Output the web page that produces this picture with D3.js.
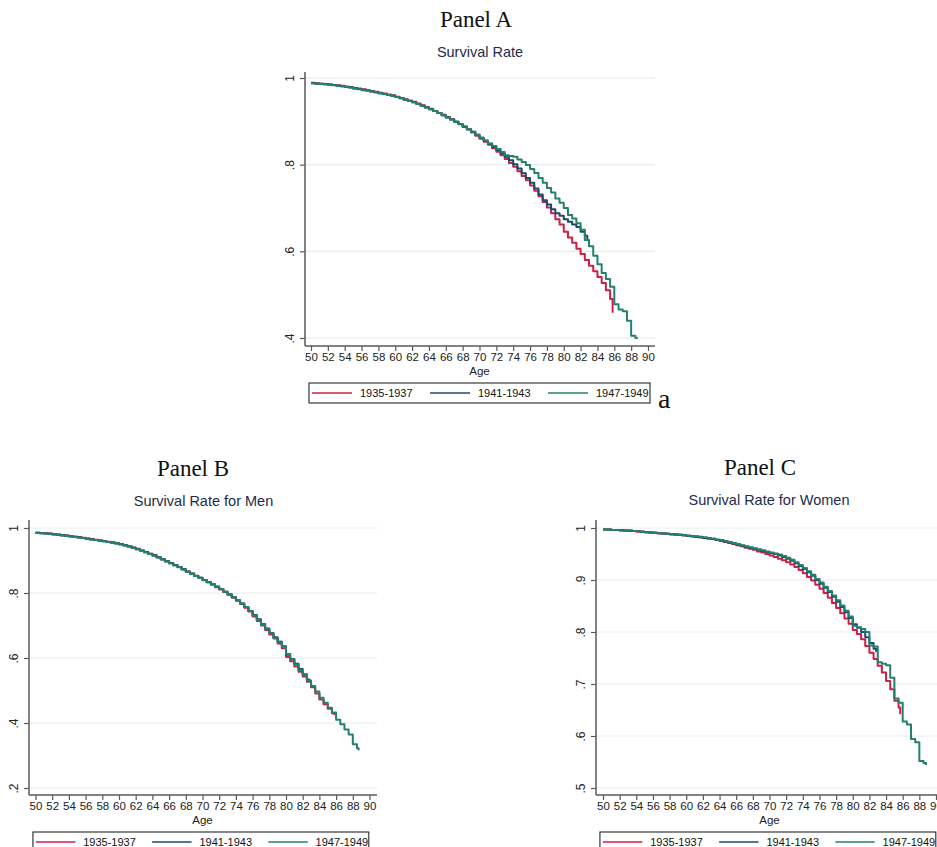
<!DOCTYPE html>
<html>
<head>
<meta charset="utf-8">
<script src="https://cdn.jsdelivr.net/npm/d3@7"></script>
<style>
  body { margin: 0; background: #fff; }
  svg { display: block; }
</style>
</head>
<body>
<svg id="chart" width="937" height="847"></svg>
<script>
// ---- data ---------------------------------------------------------------
const cohorts = ["1935-1937", "1941-1943", "1947-1949"];
const ageTicks = [50, 52, 54, 56, 58, 60, 62, 64, 66, 68, 70, 72, 74, 76, 78, 80, 82, 84, 86, 88, 90];
const yTicksA = [0.4, 0.6, 0.8, 1];
const yTicksB = [0.2, 0.4, 0.6, 0.8, 1];
const yTicksC = [0.5, 0.6, 0.7, 0.8, 0.9, 1];

// Kaplan-Meier survival read every half year of age, starting at 50
const ageStart = 50, ageStep = 0.5;

// Panel A: all respondents
const survA1935 = [
  .989,.988,.987,.986,.985,.984,.983,.982,.980,.979,.977,.975,.974,.972,.970,.968,.966,.964,.962,.960,
  .957,.954,.951,.948,.945,.941,.937,.933,.929,.924,.919,.915,.910,.905,.899,.893,.887,.881,.874,.867,
  .860,.853,.846,.838,.830,.822,.813,.804,.795,.785,.774,.764,.752,.740,.727,.714,.701,.688,.674,.662,
  .645,.632,.620,.606,.594,.580,.567,.554,.541,.527,.510,.490];
const survA1941 = [
  .988,.987,.987,.986,.985,.984,.982,.981,.980,.978,.976,.975,.973,.971,.969,.967,.965,.963,.961,.959,
  .956,.953,.950,.947,.944,.940,.936,.932,.928,.924,.919,.914,.909,.904,.899,.894,.888,.882,.876,.869,
  .862,.855,.848,.841,.834,.826,.818,.810,.801,.791,.780,.769,.758,.745,.731,.718,.708,.697,.688,.682,
  .674,.668,.662,.656,.645,.636];
const survA1947 = [
  .988,.987,.986,.985,.984,.983,.982,.981,.979,.978,.976,.974,.972,.971,.969,.967,.965,.963,.961,.959,
  .956,.953,.950,.947,.944,.940,.936,.932,.928,.924,.919,.914,.909,.904,.899,.894,.888,.882,.876,.869,
  .862,.856,.849,.843,.836,.829,.822,.820,.818,.812,.806,.799,.790,.781,.769,.758,.746,.736,.722,.712,
  .700,.684,.676,.665,.650,.626,.612,.590,.570,.550,.536,.518,.478,.466,.462,.440,.405,.400];
const lastA = [[85.8, .458], [82.8, .628], [88.7, .398]];

// Panel B: men
const survB1935 = [
  .986,.985,.984,.983,.981,.980,.978,.977,.975,.973,.972,.970,.968,.966,.964,.962,.960,.958,.956,.953,
  .951,.947,.944,.940,.936,.931,.926,.921,.916,.910,.904,.898,.892,.886,.880,.873,.866,.859,.852,.847,
  .840,.833,.826,.818,.811,.803,.795,.786,.776,.766,.755,.743,.728,.714,.700,.686,.672,.660,.645,.630,
  .603,.590,.574,.558,.543,.527,.510,.491,.472,.458,.444,.430];
const survB1941 = [
  .985,.984,.983,.982,.981,.979,.978,.976,.975,.973,.971,.969,.967,.965,.963,.961,.959,.957,.955,.953,
  .950,.947,.943,.939,.935,.931,.926,.921,.916,.910,.904,.898,.892,.886,.880,.873,.866,.860,.853,.847,
  .840,.834,.827,.820,.812,.804,.796,.787,.778,.768,.757,.745,.732,.719,.705,.691,.677,.664,.650,.636,
  .610,.597,.582,.566,.550,.534];
const survB1947 = [
  .985,.984,.983,.982,.980,.979,.977,.976,.974,.972,.971,.969,.967,.965,.963,.961,.959,.957,.955,.952,
  .949,.946,.943,.939,.935,.930,.925,.920,.915,.909,.903,.897,.891,.885,.879,.872,.865,.859,.852,.846,
  .839,.833,.826,.819,.812,.804,.796,.787,.778,.768,.757,.745,.731,.718,.704,.690,.676,.662,.650,.636,
  .612,.596,.580,.563,.548,.531,.514,.497,.478,.462,.447,.432,.410,.396,.380,.365,.335,.322];
const lastB = [[85.8, .425], [82.8, .528], [88.7, .316]];

// Panel C: women
const survC1935 = [
  .997,.997,.996,.996,.995,.995,.994,.994,.993,.993,.992,.991,.991,.990,.989,.989,.988,.987,.987,.986,
  .985,.984,.983,.982,.981,.980,.979,.977,.975,.973,.971,.969,.967,.965,.962,.960,.958,.955,.953,.950,
  .947,.944,.941,.938,.934,.930,.925,.919,.913,.906,.899,.891,.883,.875,.866,.856,.846,.836,.826,.816,
  .804,.796,.786,.773,.760,.748,.735,.722,.706,.690,.668,.655];
const survC1941 = [
  .997,.997,.996,.996,.996,.995,.995,.994,.994,.993,.992,.992,.991,.990,.990,.989,.988,.988,.987,.986,
  .985,.984,.983,.982,.981,.980,.979,.977,.976,.974,.972,.970,.968,.966,.964,.962,.960,.958,.956,.954,
  .952,.950,.947,.944,.941,.937,.932,.927,.921,.915,.908,.900,.893,.885,.877,.868,.858,.848,.838,.827,
  .815,.808,.800,.790,.779,.768];
const survC1947 = [
  .997,.997,.996,.996,.995,.995,.995,.994,.994,.993,.992,.992,.991,.990,.990,.989,.988,.987,.987,.986,
  .985,.984,.984,.983,.982,.981,.980,.978,.977,.975,.973,.971,.969,.967,.965,.963,.961,.959,.957,.955,
  .953,.951,.949,.946,.943,.939,.934,.929,.923,.917,.910,.902,.895,.887,.879,.870,.861,.851,.841,.830,
  .812,.809,.806,.800,.774,.772,.742,.739,.736,.712,.672,.664,.628,.622,.594,.588,.552,.548];
const lastC = [[85.7, .642], [82.8, .762], [88.8, .544]];

// ---- styling ------------------------------------------------------------
const colors = ["#cf1f45", "#1b4b6b", "#23806f"];
const gridColor = "#e3ecee";
const axisColor = "#5a5a5a";
const titleColor = "#1e2c4b";
const sans = "'Liberation Sans', Arial, Helvetica, sans-serif";
const serif = "'Liberation Serif', 'Times New Roman', serif";

const panels = [
  { series: [survA1935, survA1941, survA1947], last: lastA, yTicks: yTicksA, yMin: 0.4,
    x0: 305, x50: 311, x90: 648, xEnd: 655, yHi: 78, yLo: 338, yTop: 72, yBot: 346, s: 1,
    label: "Panel A", labelX: 476, labelY: 27,
    title: "Survival Rate", titleX: 480, titleY: 57 },
  { series: [survB1935, survB1941, survB1947], last: lastB, yTicks: yTicksB, yMin: 0.2,
    x0: 29, x50: 35.5, x90: 369.5, xEnd: 377, yHi: 528, yLo: 788, yTop: 520, yBot: 795, s: 0.985,
    label: "Panel B", labelX: 193, labelY: 476,
    title: "Survival Rate for Men", titleX: 203.5, titleY: 505.5 },
  { series: [survC1935, survC1941, survC1947], last: lastC, yTicks: yTicksC, yMin: 0.5,
    x0: 596, x50: 603, x90: 936, xEnd: 945, yHi: 528, yLo: 788, yTop: 520, yBot: 795, s: 0.985,
    label: "Panel C", labelX: 760, labelY: 475,
    title: "Survival Rate for Women", titleX: 769, titleY: 505 }
];

const svg = d3.select("#chart");
const fmtY = d => (d === 1 ? "1" : d3.format(".1f")(d).replace(/^0/, ""));

function toPoints(values, last) {
  const pts = values.map((v, i) => [ageStart + i * ageStep, v]);
  pts.push(last);
  return pts;
}

function drawPanel(p) {
  const g = svg.append("g");
  const x = d3.scaleLinear().domain([50, 90]).range([p.x50, p.x90]);
  const y = d3.scaleLinear().domain([p.yMin, 1]).range([p.yLo, p.yHi]);

  // headings
  g.append("text").attr("x", p.labelX).attr("y", p.labelY)
    .attr("text-anchor", "middle").attr("font-family", serif)
    .attr("font-size", 23).attr("fill", "#111").text(p.label);
  g.append("text").attr("x", p.titleX).attr("y", p.titleY)
    .attr("text-anchor", "middle").attr("font-family", sans)
    .attr("font-size", 14.5).attr("fill", titleColor).text(p.title);

  // horizontal grid
  g.append("g").selectAll("line").data(p.yTicks).join("line")
    .attr("x1", p.x0).attr("x2", p.xEnd)
    .attr("y1", d => y(d)).attr("y2", d => y(d))
    .attr("stroke", gridColor).attr("stroke-width", 1.2);

  // survival curves
  const line = d3.line().curve(d3.curveStepAfter)
    .x(d => x(d[0])).y(d => y(d[1]));
  g.append("g").selectAll("path").data([0, 1, 2]).join("path")
    .attr("d", i => line(toPoints(p.series[i], p.last[i])))
    .attr("fill", "none").attr("stroke", i => colors[i])
    .attr("stroke-width", 2).attr("stroke-linejoin", "round");

  // y axis
  const yAxis = d3.axisLeft(y).tickValues(p.yTicks).tickSize(5).tickFormat(fmtY);
  const ya = g.append("g").attr("transform", `translate(${p.x0},0)`).call(yAxis);
  ya.select(".domain").remove();
  ya.attr("color", axisColor);
  ya.selectAll(".tick line").attr("stroke-width", 1.2);
  ya.selectAll(".tick text")
    .attr("x", null).attr("dy", null)
    .attr("transform", "translate(-11,0) rotate(-90)")
    .attr("text-anchor", "middle")
    .attr("font-family", sans).attr("font-size", 12).attr("fill", "#222");
  g.append("line").attr("x1", p.x0).attr("x2", p.x0)
    .attr("y1", p.yTop).attr("y2", p.yBot)
    .attr("stroke", axisColor).attr("stroke-width", 1.5);

  // x axis
  const xAxis = d3.axisBottom(x).tickValues(ageTicks).tickSize(5).tickPadding(2);
  const xa = g.append("g").attr("transform", `translate(0,${p.yBot})`).call(xAxis);
  xa.select(".domain").remove();
  xa.attr("color", axisColor);
  xa.selectAll(".tick line").attr("stroke-width", 1.2);
  xa.selectAll(".tick text")
    .attr("font-family", sans).attr("font-size", 11.5).attr("fill", "#222");
  g.append("line").attr("x1", p.x0).attr("x2", p.xEnd)
    .attr("y1", p.yBot).attr("y2", p.yBot)
    .attr("stroke", axisColor).attr("stroke-width", 1.5);
  g.append("text").attr("x", (p.x50 + p.x90) / 2).attr("y", p.yBot + 29)
    .attr("text-anchor", "middle").attr("font-family", sans)
    .attr("font-size", 11.5).attr("fill", "#222").text("Age");

  // legend
  const lg = g.append("g").attr("transform", `translate(${p.x0},${p.yBot + 37})`);
  lg.append("rect").attr("x", 4 * p.s).attr("y", 0)
    .attr("width", 341 * p.s).attr("height", 20)
    .attr("fill", "#fff").attr("stroke", "#111").attr("stroke-width", 1);
  const items = lg.selectAll("g.item").data(cohorts).join("g").attr("class", "item")
    .attr("transform", (d, i) => `translate(${(7 + i * 118) * p.s},10)`);
  items.append("line").attr("x1", 0).attr("x2", 40 * p.s)
    .attr("y1", 0).attr("y2", 0)
    .attr("stroke", (d, i) => colors[i]).attr("stroke-width", 1.6);
  items.append("text").attr("x", 48 * p.s).attr("y", 4)
    .attr("font-family", sans).attr("font-size", 11).attr("fill", "#111")
    .text(d => d);
}

panels.forEach(drawPanel);

// sub-figure tag next to the first legend
svg.append("text").attr("x", 658).attr("y", 408)
  .attr("font-family", serif).attr("font-size", 28).attr("fill", "#111").text("a");
</script>
</body>
</html>
